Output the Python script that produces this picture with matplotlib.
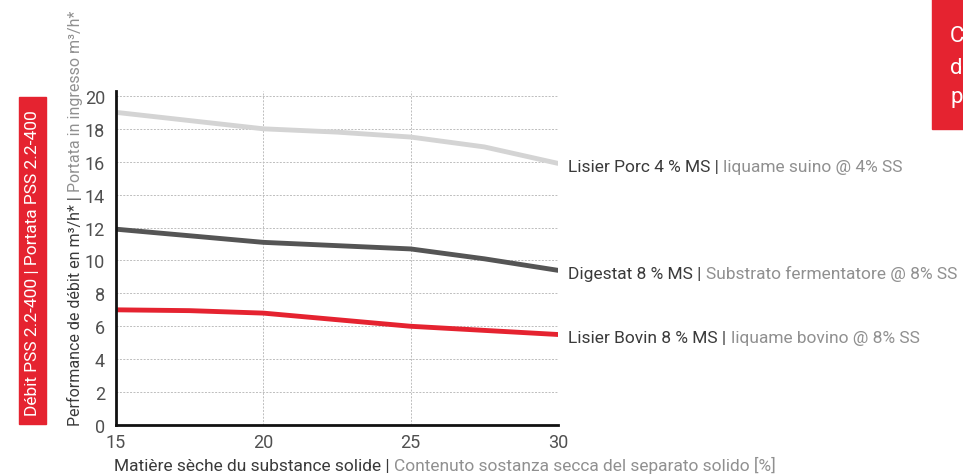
import matplotlib
matplotlib.use("Agg")
import matplotlib.pyplot as plt
from matplotlib.patches import Rectangle

# Données
ms = [15, 17.5, 20, 22.5, 25, 27.5, 30]
porc = [19.0, 18.5, 18.0, 17.8, 17.5, 16.9, 15.9]
digestat = [11.9, 11.5, 11.1, 10.9, 10.7, 10.1, 9.4]
bovin = [7.0, 6.95, 6.8, 6.4, 6.0, 5.75, 5.5]

labels_fr = ["Lisier Porc 4 % MS", "Digestat 8 % MS", "Lisier Bovin 8 % MS"]
labels_it = ["liquame suino @ 4% SS", "Substrato fermentatore @ 8% SS",
             "liquame bovino @ 8% SS"]
y_ticks = [0, 2, 4, 6, 8, 10, 12, 14, 16, 18, 20]
x_ticks = [15, 20, 25, 30]

plt.rcParams["font.family"] = ["Roboto", "DejaVu Sans"]

dark = "#3a3a3a"
light = "#909090"
red = "#e52330"

fig = plt.figure(figsize=(9.63, 4.77), dpi=100)
ax = fig.add_axes([0.1205, 0.1069, 0.4589, 0.7003])

ax.plot(ms, porc, color="#d4d4d4", lw=3.5, solid_capstyle="round")
ax.plot(ms, digestat, color="#555555", lw=3.5, solid_capstyle="round")
ax.plot(ms, bovin, color=red, lw=3.5, solid_capstyle="round")

ax.set_xlim(15, 30)
ax.set_ylim(0, 20.3)
ax.set_yticks(y_ticks)
ax.set_xticks(x_ticks)
ax.tick_params(length=0, labelsize=13, colors="#505050", pad=8)
ax.tick_params(axis="x", pad=6)

# Grille
for y in y_ticks[1:]:
    ax.axhline(y, color="#bdbdbd", lw=0.7, ls=(0, (2, 1.5)), zorder=0)
for x in x_ticks[1:]:
    ax.axvline(x, color="#bdbdbd", lw=0.7, ls=(0, (2, 1.5)), zorder=0)

for s in ["top", "right"]:
    ax.spines[s].set_visible(False)
for s in ["left", "bottom"]:
    ax.spines[s].set_linewidth(2)
    ax.spines[s].set_color("#111111")

fig.canvas.draw()
renderer = fig.canvas.get_renderer()

# Libellés des courbes (français foncé | italien clair)
ends = [porc[-1], digestat[-1], bovin[-1]]
for fr, it, yv in zip(labels_fr, labels_it, ends):
    t1 = ax.text(30.35, yv - 0.45, fr + " | ", color=dark, fontsize=12.5,
                 va="baseline", ha="left", clip_on=False)
    bb = t1.get_window_extent(renderer)
    x2 = ax.transData.inverted().transform((bb.x1, 0))[0]
    ax.text(x2, yv - 0.45, it, color=light, fontsize=12.5, va="baseline",
            ha="left", clip_on=False)

# Titre de l'axe x
yb = 1 - 471 / 477
t = fig.text(114 / 963, yb, "Matière sèche du substance solide | ",
             color=dark, fontsize=12.5, va="baseline", ha="left")
bb = t.get_window_extent(renderer)
fig.text(bb.x1 / fig.bbox.width, yb,
         "Contenuto sostanza secca del separato solido [%]",
         color=light, fontsize=12.5, va="baseline", ha="left")

# Titre de l'axe y (vertical)
xb = 80 / 963
t = fig.text(xb, 1 - 426 / 477, "Performance de débit en m³/h* | ",
             color=dark, fontsize=11.5, rotation=90, rotation_mode="anchor",
             va="baseline", ha="left")
bb = t.get_window_extent(renderer)
fig.text(xb, bb.y1 / fig.bbox.height, "Portata in ingresso m³/h*",
         color=light, fontsize=11.5, rotation=90, rotation_mode="anchor",
         va="baseline", ha="left")

# Bandeau rouge à gauche
fig.patches.append(Rectangle((19 / 963, 1 - 425 / 477), 27 / 963, 327 / 477,
                             transform=fig.transFigure, color=red, zorder=0))
fig.text(32.5 / 963, 1 - 263 / 477, "Débit PSS 2.2-400 | Portata PSS 2.2-400",
         color="white", fontsize=12.5, rotation=90,
         va="center", ha="center")

# Bandeau rouge en haut à droite (coupé)
fig.patches.append(Rectangle((932 / 963, 1 - 130 / 477), 31 / 963, 130 / 477,
                             transform=fig.transFigure, color=red, zorder=0))
for ch, yy in zip(["C", "d", "p"], [37, 68, 97]):
    fig.text(950 / 963, 1 - yy / 477, ch, color="white", fontsize=16,
             va="center", ha="left")

fig.savefig("out.png", dpi=100)
